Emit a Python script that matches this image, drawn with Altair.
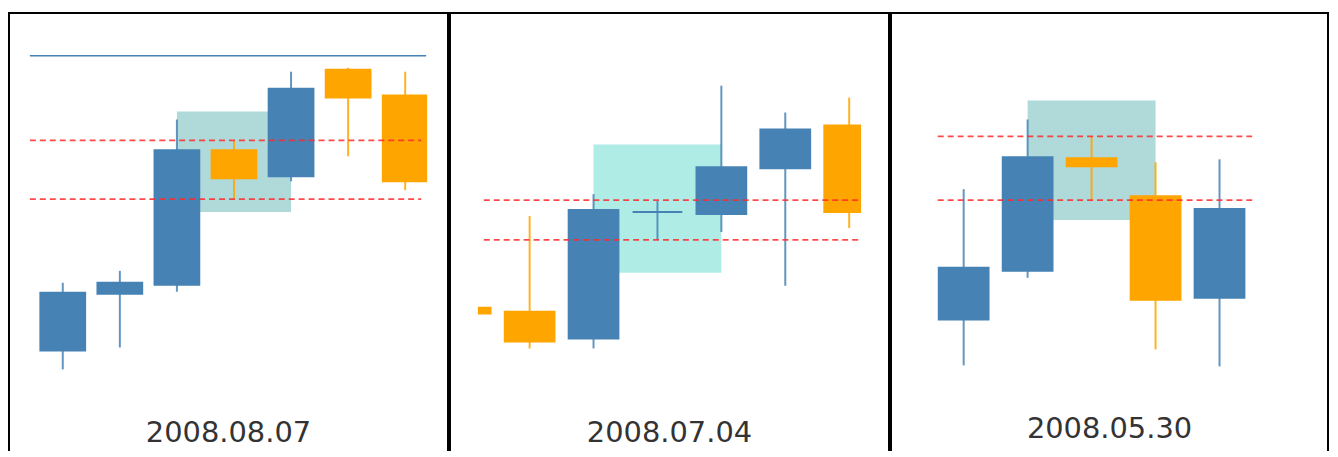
import altair as alt
import pandas as pd
import numpy as np

# ---------------- data (price units) ----------------
# Panel 1 : 2008.08.07
p1_label = "2008.08.07"
p1_idx   = [0, 1, 2, 3, 4, 5, 6]
p1_open  = [110, 167, 176, 311, 285, 392, 366]
p1_high  = [178, 190, 342, 321, 390, 394, 390]
p1_low   = [91, 113, 169, 262, 280, 305, 271]
p1_close = [168, 178, 311, 283, 373, 364, 280]
p1_levels = [321, 262]          # red dashed (high / low of marked candle)
p1_resist = [406]               # solid blue line
p1_box = dict(x=2, x2=4, y=249, y2=350)

# Panel 2 : 2008.07.04
p2_label = "2008.07.04"
p2_idx   = [0, 1, 2, 3, 4, 5, 6]
p2_open  = [153, 149, 122, 249, 247, 293, 336]
p2_high  = [153, 245, 267, 260, 376, 349, 364]
p2_low   = [147, 112, 112, 221, 229, 175, 233]
p2_close = [147, 119, 251, 249, 294, 332, 249]
p2_levels = [261, 221]
p2_box = dict(x=2, x2=4, y=188, y2=317)

# Panel 3 : 2008.05.30
p3_label = "2008.05.30"
p3_idx   = [1, 2, 3, 4, 5]
p3_open  = [141, 190, 303, 265, 163]
p3_high  = [272, 342, 325, 299, 302]
p3_low   = [95, 183, 261, 111, 94]
p3_close = [193, 304, 295, 161, 252]
p3_levels = [325, 261]
p3_box = dict(x=2, x2=4, y=241, y2=361)

# ---------------- layout settings ----------------
H = 448
Y_DOMAIN = [1, 449]
UP, DOWN = "#4682b4", "#ffa500"
FONT = "DejaVu Sans"


def panel(label, idx, o, h, l, c, levels, box, box_color, width, xdom,
          window, line_span, half_w, resist=None, label_y=431):
    lo, hi = window
    df = pd.DataFrame(dict(idx=idx, open=o, high=h, low=l, close=c))
    df["dir"] = np.where(df["close"] >= df["open"], "up", "down")
    df["bx"] = np.clip(df["idx"] - half_w, lo, hi)
    df["bx2"] = np.clip(df["idx"] + half_w, lo, hi)
    df["bot"] = df[["open", "close"]].min(axis=1)
    df["top"] = df[["open", "close"]].max(axis=1)
    bodies = df[df["bx2"] > df["bx"]]
    wicks = df[(df["idx"] >= lo) & (df["idx"] <= hi)]

    xs = alt.Scale(domain=xdom, nice=False, zero=False)
    ys = alt.Scale(domain=Y_DOMAIN, nice=False, zero=False)
    cs = alt.Scale(domain=["up", "down"], range=[UP, DOWN])

    shade = alt.Chart(pd.DataFrame([box])).mark_rect(color=box_color).encode(
        x=alt.X("x:Q", scale=xs, axis=None), x2="x2:Q",
        y=alt.Y("y:Q", scale=ys, axis=None), y2="y2:Q")

    wick = alt.Chart(wicks).mark_rule(strokeWidth=2, opacity=0.85).encode(
        x=alt.X("idx:Q", scale=xs, axis=None),
        y=alt.Y("low:Q", scale=ys, axis=None), y2="high:Q",
        color=alt.Color("dir:N", scale=cs, legend=None))

    body = alt.Chart(bodies).mark_rect(strokeWidth=2).encode(
        x=alt.X("bx:Q", scale=xs, axis=None), x2="bx2:Q",
        y=alt.Y("bot:Q", scale=ys, axis=None), y2="top:Q",
        color=alt.Color("dir:N", scale=cs, legend=None),
        stroke=alt.Stroke("dir:N", scale=cs, legend=None))

    lv = pd.DataFrame(dict(level=levels, x0=line_span[0], x1=line_span[1]))
    red = alt.Chart(lv).mark_rule(color="#ff2a2a", strokeWidth=1.8,
                                  strokeDash=[6, 4], opacity=0.85).encode(
        x=alt.X("x0:Q", scale=xs, axis=None), x2="x1:Q",
        y=alt.Y("level:Q", scale=ys, axis=None))

    layers = [shade, wick, body, red]
    if resist:
        rs = pd.DataFrame(dict(level=resist, x0=lo, x1=hi))
        layers.append(alt.Chart(rs).mark_rule(color=UP, strokeWidth=1.5).encode(
            x=alt.X("x0:Q", scale=xs, axis=None), x2="x1:Q",
            y=alt.Y("level:Q", scale=ys, axis=None)))

    txt = alt.Chart(pd.DataFrame(dict(t=[label]))).mark_text(
        font=FONT, fontSize=29, color="#333333", align="center",
        baseline="alphabetic").encode(
        text="t:N", x=alt.value(width / 2), y=alt.value(label_y))
    layers.append(txt)

    return alt.layer(*layers).properties(width=width, height=H)


c1 = panel(p1_label, p1_idx, p1_open, p1_high, p1_low, p1_close, p1_levels,
           p1_box, "#b0d9d9", 441, [-0.942, 6.750], (-0.576, 6.367),
           (-0.576, 6.28), 0.392, resist=p1_resist, label_y=431)
c2 = panel(p2_label, p2_idx, p2_open, p2_high, p2_low, p2_close, p2_levels,
           p2_box, "#afece6", 441, [-0.246, 6.623], (0.206, 6.171),
           (0.283, 6.171), 0.389, label_y=431)
c3 = panel(p3_label, p3_idx, p3_open, p3_high, p3_low, p3_close, p3_levels,
           p3_box, "#b0d9d9", 439, [-0.136, 6.696], (-0.136, 6.696),
           (0.595, 5.51), 0.389, label_y=427)

chart = alt.hconcat(c1, c2, c3, spacing=0).properties(
    padding={"left": 0, "top": 3, "right": 1, "bottom": -10},
).configure_view(stroke="black", strokeWidth=2)

chart.save("out.html", embed_options={"renderer": "svg", "actions": False})
